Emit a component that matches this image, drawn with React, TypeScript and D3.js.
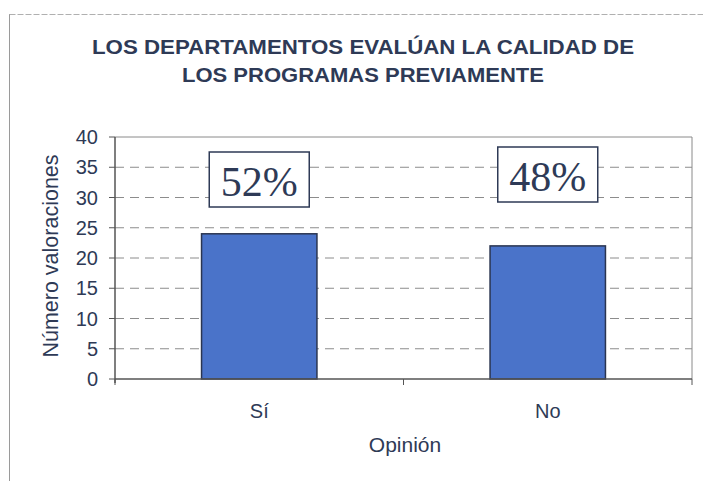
import React from "react";
import * as d3 from "d3";

const categories = ["Sí", "No"];
const values = [24, 22];
const percentLabels = ["52%", "48%"];
const yTicks = [0, 5, 10, 15, 20, 25, 30, 35, 40];
const titleLines = ["LOS DEPARTAMENTOS EVALÚAN LA CALIDAD DE", "LOS PROGRAMAS PREVIAMENTE"];

const W = 703;
const H = 481;
const M = { left: 115, right: 692, top: 137, bottom: 379 };
const ink = "#2e3a56";

export default function App() {
  const x = d3.scaleBand<string>().domain(categories).range([M.left, M.right]).padding(0);
  const y = d3.scaleLinear().domain([0, 40]).range([M.bottom, M.top]);
  const barW = x.bandwidth() * 0.4;
  const font = "'Liberation Sans', Arial, sans-serif";
  const titleW = [542, 362];

  return (
    <svg width={W} height={H} style={{ position: "absolute", left: 0, top: 0, background: "#fff" }}>
      <rect x={0} y={0} width={W} height={H} fill="#fff" />
      {/* outer frame */}
      <line x1={9.5} x2={9.5} y1={14} y2={H} stroke="#9a9a9a" strokeWidth={1} />
      <line x1={9.5} x2={W} y1={14.5} y2={14.5} stroke="#b0b0b0" strokeWidth={1} strokeDasharray="6 2" />
      {/* title */}
      {titleLines.map((t, i) => (
        <text
          key={i}
          x={363 - titleW[i] / 2}
          y={54 + i * 28}
          textLength={titleW[i]}
          lengthAdjust="spacingAndGlyphs"
          fontFamily={font}
          fontWeight="bold"
          fontSize={19.5}
          fill={ink}
        >
          {t}
        </text>
      ))}
      {/* gridlines */}
      {yTicks.filter((v) => v > 0 && v < 40).map((v) => (
        <line key={v} x1={M.left} x2={M.right} y1={y(v)} y2={y(v)} stroke="#8c8c8c" strokeWidth={1} strokeDasharray="9 6" />
      ))}
      {/* plot border top/right */}
      <line x1={M.left} x2={M.right} y1={M.top} y2={M.top} stroke="#8a8a8a" strokeWidth={1} />
      <line x1={M.right} x2={M.right} y1={M.top} y2={M.bottom} stroke="#8a8a8a" strokeWidth={1} />
      {/* bars */}
      {categories.map((c, i) => (
        <rect
          key={c}
          x={(x(c) as number) + x.bandwidth() / 2 - barW / 2}
          y={y(values[i])}
          width={barW}
          height={y(0) - y(values[i])}
          fill="#4a73c9"
          stroke="#2a3550"
          strokeWidth={1.5}
        />
      ))}
      {/* percent label boxes */}
      {categories.map((c, i) => {
        const cx = (x(c) as number) + x.bandwidth() / 2;
        const top = i === 0 ? 152 : 147;
        return (
          <g key={c}>
            <rect x={cx - 50} y={top} width={100} height={55} fill="#fff" stroke={ink} strokeWidth={1.5} />
            <text x={cx} y={top + 44} textAnchor="middle" fontFamily="'Liberation Serif', 'Times New Roman', serif" fontSize={42} fill={ink}>
              {percentLabels[i]}
            </text>
          </g>
        );
      })}
      {/* y axis */}
      <line x1={M.left} x2={M.left} y1={M.top} y2={M.bottom + 4} stroke="#555" strokeWidth={1.5} />
      {yTicks.map((v) => (
        <g key={v}>
          <line x1={M.left - 6} x2={M.left} y1={y(v)} y2={y(v)} stroke="#555" strokeWidth={1} />
          <text x={98} y={y(v) + 7} textAnchor="end" fontFamily={font} fontSize={20} fill={ink}>
            {v}
          </text>
        </g>
      ))}
      {/* x axis */}
      <line x1={M.left} x2={M.right} y1={M.bottom} y2={M.bottom} stroke="#555" strokeWidth={1.5} />
      {[M.left, (M.left + M.right) / 2, M.right].map((tx, i) => (
        <line key={i} x1={tx} x2={tx} y1={M.bottom} y2={M.bottom + 6} stroke="#555" strokeWidth={1} />
      ))}
      {categories.map((c) => (
        <text key={c} x={(x(c) as number) + x.bandwidth() / 2} y={418} textAnchor="middle" fontFamily={font} fontSize={20} fill={ink}>
          {c}
        </text>
      ))}
      <text x={405} y={452} textAnchor="middle" fontFamily={font} fontSize={21} fill={ink}>
        Opinión
      </text>
      <text transform={`translate(58,256) rotate(-90)`} textAnchor="middle" fontFamily={font} fontSize={21.5} fill={ink}>
        Número valoraciones
      </text>
    </svg>
  );
}
